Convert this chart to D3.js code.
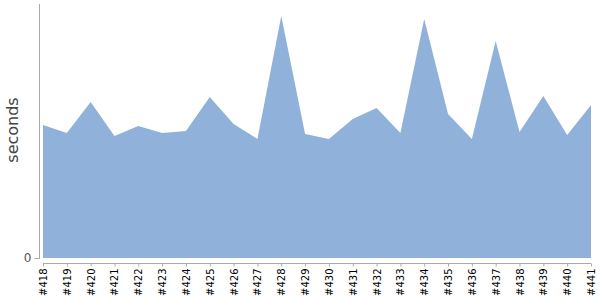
<!DOCTYPE html>
<html><head><meta charset="utf-8">
<script src="https://cdn.jsdelivr.net/npm/d3@7"></script>
<style>body{margin:0;background:#fff}svg{display:block}</style>
</head><body><svg id="c" width="600" height="300"></svg>
<script>
const builds = ["#418","#419","#420","#421","#422","#423","#424","#425","#426","#427","#428","#429","#430","#431","#432","#433","#434","#435","#436","#437","#438","#439","#440","#441"];
const seconds = [133,125,156,122,132,125,127,161,134,119,242,124,119,139,150,125,239,144,119,217,126,162,123,153];
const yTicks = [0];

const svg = d3.select("#c");
const x = d3.scalePoint().domain(builds).range([43, 591]);
const y = d3.scaleLinear().domain([0, 254]).range([258, 4]);

const data = builds.map((b,i)=>({b, v: seconds[i]}));
svg.append("path").datum(data)
  .attr("fill", "#8fb1da")
  .attr("d", d3.area().x(d=>x(d.b)).y0(y(0)).y1(d=>y(d.v)));

// y axis
const ya = svg.append("g").attr("transform","translate(39.5,0)")
  .call(d3.axisLeft(y).tickValues(yTicks).tickSize(5).tickPadding(3));
ya.select(".domain").attr("stroke","#aaa").attr("d","M0,4V259");
ya.selectAll(".tick line").attr("stroke","#aaa");
ya.selectAll(".tick text").attr("font-family","DejaVu Sans").attr("font-size",12).attr("fill","#555");

// x axis
const xa = svg.append("g").attr("transform","translate(0,263.5)")
  .call(d3.axisBottom(x).tickSize(3).tickPadding(2));
xa.select(".domain").attr("stroke","#aaa").attr("d","M43,0H591");
xa.selectAll(".tick line").attr("stroke","#aaa");
xa.selectAll(".tick text")
  .attr("font-family","DejaVu Sans").attr("font-size",10).attr("fill","#000")
  .attr("text-anchor","end").attr("dy","0.35em")
  .attr("transform","translate(0,3) rotate(-90)").attr("x",-2).attr("y",0);

svg.append("text").text("seconds")
  .attr("font-family","DejaVu Sans").attr("font-size",16).attr("fill","#444")
  .attr("text-anchor","middle")
  .attr("transform","translate(18,130) rotate(-90)");
</script></body></html>
